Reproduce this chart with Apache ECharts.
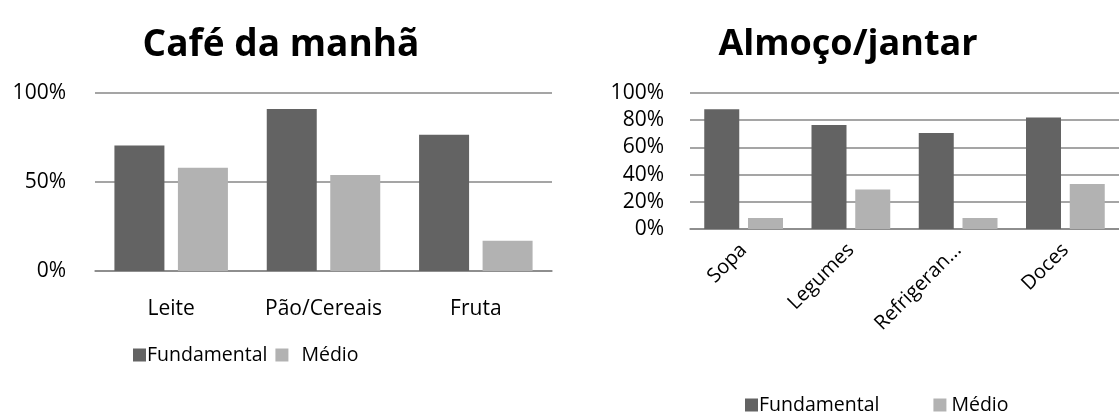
<!DOCTYPE html>
<html>
<head>
<meta charset="utf-8">
<script src="https://cdn.jsdelivr.net/npm/echarts@6/dist/echarts.min.js"></script>
<style>
html,body{margin:0;padding:0;background:#fff;}
#c{width:1119px;height:419px;}
</style>
</head>
<body>
<div id="c"></div>
<script>
const breakfastCategories = ['Leite', 'Pão/Cereais', 'Fruta'];
const breakfastFundamental = [0.705, 0.91, 0.765];
const breakfastMedio = [0.58, 0.54, 0.17];

const lunchCategories = ['Sopa', 'Legumes', 'Refrigeran...', 'Doces'];
const lunchFundamental = [0.88, 0.765, 0.705, 0.82];
const lunchMedio = [0.08, 0.29, 0.08, 0.33];

const seriesNames = ['Fundamental', 'Médio'];
const titles = ['Café da manhã', 'Almoço/jantar'];

const FONT = '"Open Sans", sans-serif';
const DARK = '#636363';
const LIGHT = '#b2b2b2';
const GRID = '#878787';

const chart = echarts.init(document.getElementById('c'), null, {renderer: 'canvas'});
const pct = v => Math.round(v * 100) + '%';

const legendData = (padMedio) => [
  {name: seriesNames[0], textStyle: {padding: [0, 0, 0, -4]}},
  {name: seriesNames[1], textStyle: {padding: [0, 0, 0, padMedio]}}
];

chart.setOption({
  animation: false,
  textStyle: {fontFamily: FONT},
  title: [
    {text: titles[0], left: 276, top: 22, textAlign: 'center',
     textStyle: {fontFamily: FONT, fontSize: 37, fontWeight: 'bold', color: '#000'}},
    {text: titles[1], left: 843, top: 22, textAlign: 'center',
     textStyle: {fontFamily: FONT, fontSize: 36, fontWeight: 'bold', color: '#000'}}
  ],
  legend: [
    {data: legendData(8), left: 128, top: 340, itemWidth: 13, itemHeight: 13, itemGap: 8, icon: 'rect',
     textStyle: {fontFamily: FONT, fontSize: 19.5, color: '#000'}},
    {data: legendData(0), left: 740, top: 390, itemWidth: 13, itemHeight: 13, itemGap: 54, icon: 'rect',
     textStyle: {fontFamily: FONT, fontSize: 19.5, color: '#000'}}
  ],
  grid: [
    {left: 95, right: 567, top: 93, bottom: 148},
    {left: 690, right: -2, top: 93, bottom: 190}
  ],
  xAxis: [
    {type: 'category', gridIndex: 0, data: breakfastCategories,
     axisLine: {lineStyle: {color: GRID, width: 1.5}}, axisTick: {show: false},
     axisLabel: {color: '#000', fontSize: 21, fontFamily: FONT, margin: 28, interval: 0}},
    {type: 'category', gridIndex: 1, data: lunchCategories,
     axisLine: {lineStyle: {color: GRID, width: 1.5}}, axisTick: {show: false},
     axisLabel: {color: '#000', fontSize: 20, fontFamily: FONT, rotate: 45, margin: 18, interval: 0}}
  ],
  yAxis: [
    {type: 'value', gridIndex: 0, min: 0, max: 1, interval: 0.5,
     axisLine: {show: false}, axisTick: {show: false},
     splitLine: {lineStyle: {color: GRID, width: 1.5}},
     axisLabel: {color: '#000', fontSize: 21, fontFamily: FONT, margin: 29, formatter: pct}},
    {type: 'value', gridIndex: 1, min: 0, max: 1, interval: 0.2,
     axisLine: {show: false}, axisTick: {show: false},
     splitLine: {lineStyle: {color: GRID, width: 1.5}},
     axisLabel: {color: '#000', fontSize: 21, fontFamily: FONT, margin: 26, formatter: pct}}
  ],
  series: [
    {name: seriesNames[0], type: 'bar', xAxisIndex: 0, yAxisIndex: 0, data: breakfastFundamental,
     barWidth: 50, barGap: '27%', itemStyle: {color: DARK}},
    {name: seriesNames[1], type: 'bar', xAxisIndex: 0, yAxisIndex: 0, data: breakfastMedio,
     barWidth: 50, barGap: '27%', itemStyle: {color: LIGHT}},
    {name: seriesNames[0], type: 'bar', xAxisIndex: 1, yAxisIndex: 1, data: lunchFundamental,
     barWidth: 35, barGap: '25%', itemStyle: {color: DARK}},
    {name: seriesNames[1], type: 'bar', xAxisIndex: 1, yAxisIndex: 1, data: lunchMedio,
     barWidth: 35, barGap: '25%', itemStyle: {color: LIGHT}}
  ]
});
</script>
</body>
</html>
